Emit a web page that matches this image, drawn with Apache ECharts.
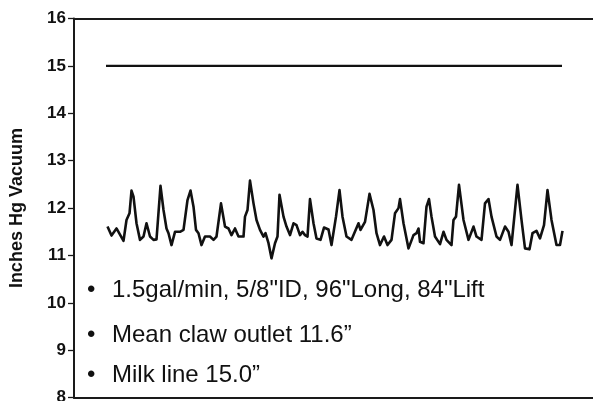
<!DOCTYPE html>
<html>
<head>
<meta charset="utf-8">
<script src="https://cdn.jsdelivr.net/npm/echarts@6/dist/echarts.min.js"></script>
<style>
  html, body { margin: 0; padding: 0; background: #fff; }
  #chart { width: 593px; height: 401px; }
</style>
</head>
<body>
<div id="chart"></div>
<script>
// time along the trace (arbitrary units) and claw vacuum, inches Hg
const timeSec = [
  6.7, 7.5, 8.5, 9.9, 10.5, 11.1, 11.5, 11.9, 12.5, 13.2, 13.9, 14.5, 15.2, 15.9, 16.5,
  17.3, 17.9, 18.5, 18.9, 19.5, 20.2, 21.2, 21.9, 22.7, 23.3, 23.9, 24.4, 24.9, 25.5,
  26.2, 27.2, 27.9, 28.5, 29.4, 30.2, 30.9, 31.5, 32.2, 32.9, 33.9, 34.2, 34.7, 35.2,
  35.9, 36.5, 37.2, 37.9, 38.3, 38.9, 39.5, 40.2, 40.7, 41.1, 41.3, 41.9, 42.5, 43.2,
  43.9, 44.5, 45.2, 45.7, 46.2, 46.7, 47.2, 47.9, 48.5, 49.3, 50.0, 50.9, 51.5, 52.4,
  53.1, 53.7, 54.5, 55.5, 56.9, 57.3, 58.2, 59.1, 59.9, 60.5, 61.2, 62.0, 62.7, 63.5,
  64.2, 64.9, 65.2, 65.9, 66.9, 67.9, 68.5, 68.9, 69.2, 69.9, 70.5, 71.0, 71.5, 72.2,
  73.2, 73.9, 74.5, 75.5, 75.9, 76.4, 77.0, 77.9, 78.9, 79.9, 80.5, 81.5, 82.2, 82.9,
  83.5, 84.5, 85.2, 86.2, 86.9, 87.5, 88.7, 89.5, 90.2, 91.1, 91.7, 92.5, 93.2, 94.0,
  94.7, 95.5, 96.5, 97.2, 97.7
];
const clawVacuum = [
  11.61, 11.42, 11.57, 11.31, 11.75, 11.89, 12.37, 12.24, 11.68, 11.33, 11.40, 11.68, 11.40, 11.33, 11.34,
  12.47, 11.96, 11.57, 11.47, 11.22, 11.50, 11.50, 11.54, 12.17, 12.37, 12.03, 11.54, 11.47, 11.22,
  11.40, 11.40, 11.33, 11.40, 12.10, 11.61, 11.57, 11.43, 11.57, 11.40, 11.40, 11.82, 11.96, 12.58,
  12.10, 11.75, 11.54, 11.40, 11.47, 11.26, 10.94, 11.26, 11.40, 12.28, 12.30, 11.82, 11.61, 11.43,
  11.68, 11.64, 11.43, 11.50, 11.43, 11.40, 12.19, 11.68, 11.36, 11.33, 11.59, 11.55, 11.22, 11.82,
  12.38, 11.82, 11.40, 11.33, 11.68, 11.54, 11.71, 12.30, 11.96, 11.47, 11.22, 11.40, 11.22, 11.33,
  11.89, 12.00, 12.19, 11.68, 11.15, 11.43, 11.47, 11.57, 11.29, 11.26, 12.03, 12.19, 11.82, 11.40,
  11.24, 11.50, 11.33, 11.22, 11.75, 11.82, 12.49, 11.75, 11.33, 11.61, 11.40, 11.33, 12.10, 12.19,
  11.82, 11.40, 11.33, 11.61, 11.50, 11.22, 12.49, 11.75, 11.15, 11.13, 11.47, 11.52, 11.36, 11.64,
  12.38, 11.75, 11.22, 11.22, 11.52
];
// milk line vacuum, held flat
const milkLineTime = [6.4, 97.6];
const milkLineVacuum = [15.0, 15.0];

const yTicks = [8, 9, 10, 11, 12, 13, 14, 15, 16];
const notes = [
  '1.5gal/min, 5/8"ID, 96"Long, 84"Lift',
  'Mean claw outlet 11.6\u201D',
  'Milk line 15.0\u201D'
];

const zip = (xs, ys) => xs.map((x, i) => [x, ys[i]]);

const chart = echarts.init(document.getElementById('chart'), null, { renderer: 'canvas' });

// vertical centres of the note lines
const noteY = [292, 337, 377];
const graphics = [];
notes.forEach((txt, i) => {
  graphics.push({
    type: 'text', left: 87, top: noteY[i] - 14,
    style: { text: '\u2022', font: '24px "Liberation Sans", Arial, sans-serif', fill: '#111' }
  });
  graphics.push({
    type: 'text', left: 112, top: noteY[i] - 14,
    style: { text: txt, font: '24px "Liberation Sans", Arial, sans-serif', fill: '#111' }
  });
});

chart.setOption({
  animation: false,
  grid: { left: 74, right: -1, top: 18.5, bottom: 3.3, outerBoundsMode: 'none', containLabel: false },
  xAxis: [
    {
      type: 'value', min: 0, max: 104, position: 'bottom',
      axisLine: { show: true, lineStyle: { color: '#1a1a1a', width: 2 } },
      axisTick: { show: false }, axisLabel: { show: false }, splitLine: { show: false }
    },
    {
      type: 'value', min: 0, max: 104, position: 'top',
      axisLine: { show: true, onZero: false, lineStyle: { color: '#1a1a1a', width: 2 } },
      axisTick: { show: false }, axisLabel: { show: false }, splitLine: { show: false }
    }
  ],
  yAxis: {
    type: 'value', min: yTicks[0], max: yTicks[yTicks.length - 1], interval: 1,
    name: 'Inches Hg Vacuum',
    nameLocation: 'middle',
    nameGap: 48,
    nameTextStyle: { fontFamily: '"Liberation Sans", Arial, sans-serif', fontWeight: 'bold', fontSize: 18, color: '#111' },
    axisLine: { show: true, lineStyle: { color: '#1a1a1a', width: 2 } },
    axisTick: { show: true, length: 6, lineStyle: { color: '#1a1a1a', width: 1.3 } },
    axisLabel: {
      margin: 8,
      fontFamily: '"Liberation Sans", Arial, sans-serif', fontWeight: 'bold', fontSize: 17, color: '#111'
    },
    splitLine: { show: false }
  },
  series: [
    {
      name: 'Milk line', type: 'line', xAxisIndex: 0, symbol: 'none',
      data: zip(milkLineTime, milkLineVacuum),
      lineStyle: { color: '#111', width: 2.2 }
    },
    {
      name: 'Claw outlet', type: 'line', xAxisIndex: 0, symbol: 'none',
      data: zip(timeSec, clawVacuum),
      lineStyle: { color: '#111', width: 2.6, join: 'round' }
    }
  ],
  graphic: graphics
});
</script>
</body>
</html>
